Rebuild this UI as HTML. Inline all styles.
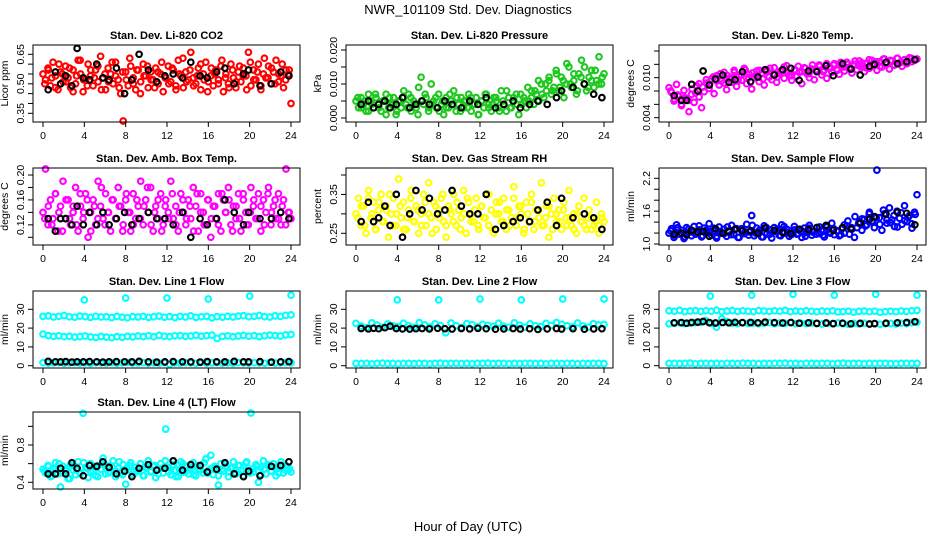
<!DOCTYPE html>
<html><head><meta charset="utf-8"><style>
body{margin:0;background:#fff}
svg{display:block;font-family:"Liberation Sans",Arial,sans-serif}
</style></head><body>
<svg id="chart" width="936" height="540" viewBox="0 0 936 540" xmlns="http://www.w3.org/2000/svg">
<text x="468" y="14" text-anchor="middle" font-size="13">NWR_101109  Std. Dev. Diagnostics</text>
<text x="468" y="531" text-anchor="middle" font-size="13">Hour of Day (UTC)</text>
</svg>
<script>
const xTicks=[0,4,8,12,16,20,24];
const blackHours=[0.5,1.2,1.7,2.2,2.8,3.3,3.9,4.5,5.2,5.8,6.4,7.1,7.9,8.6,9.3,10.2,11.0,11.8,12.6,13.5,14.3,15.2,15.9,16.8,17.6,18.5,19.4,19.9,21.0,22.1,23.0,23.8];
const outlierHours=[4,8,12,16,20,24];
const co2=[0.55,0.52,0.58,0.49,0.61,0.54,0.47,0.56,0.51,0.59,0.53,0.48,0.57,0.50,0.62,0.55,0.46,0.52,0.60,0.54,0.49,0.57,0.51,0.64,0.53,0.47,0.58,0.55,0.50,0.61,0.52,0.45,0.31,0.56,0.49,0.59,0.53,0.47,0.57,0.51,0.60,0.54,0.48,0.56,0.52,0.58,0.50,0.55,0.46,0.53,0.59,0.51,0.57,0.49,0.62,0.54,0.48,0.56,0.52,0.66,0.53,0.50,0.58,0.47,0.55,0.61,0.51,0.54,0.49,0.57,0.52,0.59,0.46,0.55,0.50,0.60,0.53,0.48,0.56,0.51,0.58,0.54,0.66,0.49,0.57,0.52,0.60,0.47,0.55,0.53,0.59,0.50,0.56,0.62,0.51,0.54,0.48,0.57,0.55,0.40];
const co2B=[0.50,0.57,0.53,0.48,0.60,0.55,0.51,0.58,0.46,0.54,0.62,0.52,0.49,0.57,0.53,0.59,0.47,0.55,0.51,0.61,0.54,0.48,0.56,0.52,0.63,0.50,0.57,0.45,0.54,0.59,0.52,0.48,0.56,0.61,0.53,0.50,0.58,0.47,0.55,0.63,0.51,0.57,0.49,0.54,0.60,0.52,0.46,0.58,0.55,0.50,0.62,0.53,0.48,0.57,0.51,0.59,0.54,0.47,0.61,0.52,0.56,0.49,0.63,0.53,0.58,0.50,0.55,0.60,0.52,0.57];
const co2Black=[0.47,0.56,0.50,0.54,0.49,0.68,0.53,0.52,0.60,0.53,0.52,0.58,0.45,0.52,0.65,0.57,0.51,0.54,0.55,0.53,0.61,0.54,0.53,0.56,0.58,0.50,0.55,0.57,0.49,0.50,0.56,0.54];
const press=[0.005,0.003,0.006,0.004,0.002,0.007,0.005,0.003,0.006,0.004,0.002,0.005,0.007,0.003,0.004,0.006,0.001,0.005,0.003,0.006,0.004,0.007,0.002,0.005,0.003,0.009,0.012,0.004,0.006,0.002,0.010,0.005,0.003,0.007,0.004,0.001,0.006,0.003,0.005,0.008,0.002,0.004,0.006,0.003,0.005,0.007,0.002,0.004,0.006,0.001,0.005,0.003,0.007,0.004,0.002,0.006,0.005,0.003,0.008,0.004,0.002,0.006,0.003,0.005,0.007,0.001,0.004,0.006,0.003,0.005,0.008,0.004,0.007,0.005,0.010,0.006,0.008,0.011,0.007,0.009,0.013,0.008,0.012,0.006,0.010,0.015,0.009,0.011,0.007,0.013,0.017,0.010,0.008,0.012,0.014,0.009,0.011,0.018,0.010,0.013];
const pressB=[0.006,0.003,0.005,0.002,0.004,0.007,0.003,0.005,0.001,0.006,0.004,0.002,0.005,0.008,0.003,0.006,0.004,0.001,0.005,0.007,0.003,0.004,0.006,0.002,0.005,0.003,0.007,0.004,0.006,0.002,0.005,0.003,0.006,0.004,0.001,0.005,0.007,0.003,0.004,0.006,0.002,0.005,0.008,0.003,0.006,0.004,0.007,0.005,0.009,0.006,0.008,0.011,0.007,0.010,0.012,0.008,0.014,0.009,0.011,0.016,0.010,0.013,0.008,0.012,0.015,0.009,0.011,0.014,0.010,0.012];
const pressBlack=[0.004,0.005,0.003,0.004,0.005,0.003,0.004,0.006,0.003,0.004,0.005,0.004,0.003,0.005,0.004,0.003,0.005,0.004,0.006,0.003,0.004,0.005,0.003,0.004,0.005,0.004,0.006,0.008,0.009,0.010,0.007,0.006];
const temp=[0.0085,0.0078,0.0065,0.0090,0.0072,0.0058,0.0081,0.0069,0.0049,0.0075,0.0063,0.0088,0.0071,0.0055,0.0079,0.0092,0.0084,0.0098,0.0076,0.0103,0.0089,0.0095,0.0108,0.0082,0.0099,0.0093,0.0111,0.0087,0.0102,0.0096,0.0114,0.0091,0.0105,0.0083,0.0100,0.0110,0.0094,0.0107,0.0089,0.0112,0.0101,0.0097,0.0115,0.0093,0.0106,0.0110,0.0099,0.0118,0.0104,0.0096,0.0112,0.0102,0.0108,0.0091,0.0115,0.0106,0.0100,0.0113,0.0097,0.0110,0.0119,0.0104,0.0111,0.0099,0.0116,0.0108,0.0121,0.0113,0.0105,0.0118,0.0110,0.0123,0.0115,0.0107,0.0120,0.0112,0.0125,0.0117,0.0109,0.0122,0.0114,0.0126,0.0118,0.0111,0.0124,0.0116,0.0128,0.0120,0.0113,0.0125,0.0119,0.0129,0.0122,0.0117,0.0127,0.0121,0.0130,0.0124,0.0126,0.0128];
const tempB=[0.0080,0.0068,0.0074,0.0060,0.0070,0.0066,0.0083,0.0077,0.0091,0.0086,0.0097,0.0090,0.0101,0.0095,0.0106,0.0092,0.0103,0.0099,0.0108,0.0096,0.0104,0.0112,0.0100,0.0107,0.0103,0.0111,0.0098,0.0109,0.0114,0.0105,0.0101,0.0110,0.0116,0.0107,0.0103,0.0112,0.0117,0.0109,0.0114,0.0106,0.0119,0.0112,0.0117,0.0109,0.0121,0.0114,0.0119,0.0111,0.0123,0.0116,0.0120,0.0113,0.0125,0.0118,0.0122,0.0115,0.0127,0.0120,0.0124,0.0117,0.0128,0.0122,0.0126,0.0119,0.0129,0.0123,0.0127,0.0125,0.0129,0.0127];
const tempBlack=[0.0073,0.0066,0.0066,0.0090,0.0080,0.0110,0.0089,0.0098,0.0104,0.0093,0.0097,0.0109,0.0094,0.0101,0.0112,0.0104,0.0112,0.0114,0.0096,0.0110,0.0109,0.0118,0.0103,0.0121,0.0113,0.0104,0.0117,0.0120,0.0123,0.0121,0.0124,0.0127];
const amb=[0.14,0.21,0.12,0.16,0.13,0.17,0.11,0.15,0.19,0.13,0.16,0.12,0.14,0.18,0.11,0.15,0.13,0.17,0.10,0.14,0.16,0.12,0.19,0.15,0.13,0.17,0.14,0.11,0.16,0.13,0.18,0.15,0.12,0.16,0.14,0.11,0.17,0.13,0.15,0.19,0.12,0.16,0.14,0.18,0.11,0.15,0.13,0.17,0.12,0.16,0.14,0.19,0.13,0.15,0.11,0.17,0.14,0.12,0.16,0.13,0.18,0.15,0.11,0.17,0.14,0.12,0.16,0.10,0.15,0.13,0.17,0.11,0.16,0.14,0.18,0.12,0.15,0.13,0.17,0.11,0.16,0.14,0.12,0.18,0.15,0.13,0.17,0.11,0.16,0.14,0.18,0.12,0.15,0.13,0.17,0.12,0.16,0.21,0.14,0.13];
const ambB=[0.13,0.15,0.12,0.17,0.14,0.11,0.16,0.13,0.15,0.12,0.17,0.14,0.16,0.11,0.15,0.13,0.18,0.12,0.14,0.16,0.13,0.15,0.11,0.17,0.14,0.12,0.16,0.13,0.15,0.18,0.12,0.14,0.16,0.11,0.15,0.13,0.17,0.12,0.14,0.16,0.13,0.15,0.11,0.17,0.14,0.12,0.16,0.13,0.15,0.12,0.17,0.14,0.16,0.11,0.15,0.13,0.17,0.12,0.14,0.16,0.13,0.15,0.12,0.17,0.14,0.16,0.13,0.15,0.12,0.14];
const ambBlack=[0.13,0.11,0.13,0.13,0.12,0.15,0.12,0.14,0.12,0.14,0.12,0.13,0.14,0.12,0.13,0.14,0.13,0.13,0.12,0.14,0.10,0.13,0.12,0.13,0.16,0.14,0.12,0.14,0.13,0.13,0.14,0.13];
const rh=[0.30,0.34,0.27,0.32,0.25,0.36,0.29,0.33,0.26,0.31,0.35,0.28,0.32,0.24,0.30,0.34,0.27,0.39,0.29,0.33,0.26,0.31,0.36,0.28,0.32,0.25,0.30,0.35,0.27,0.38,0.29,0.33,0.26,0.31,0.34,0.28,0.24,0.32,0.30,0.35,0.27,0.31,0.29,0.36,0.25,0.33,0.30,0.28,0.34,0.26,0.32,0.29,0.35,0.27,0.31,0.25,0.33,0.30,0.28,0.34,0.26,0.31,0.29,0.37,0.27,0.32,0.30,0.25,0.33,0.28,0.35,0.26,0.31,0.29,0.38,0.27,0.32,0.24,0.30,0.34,0.28,0.31,0.26,0.33,0.29,0.36,0.27,0.30,0.25,0.32,0.28,0.34,0.26,0.31,0.29,0.27,0.33,0.25,0.30,0.28];
const rhB=[0.29,0.32,0.27,0.34,0.30,0.26,0.33,0.28,0.31,0.35,0.27,0.30,0.32,0.26,0.29,0.34,0.28,0.31,0.27,0.33,0.30,0.25,0.32,0.29,0.35,0.27,0.31,0.28,0.33,0.26,0.30,0.34,0.28,0.31,0.27,0.32,0.29,0.35,0.26,0.30,0.33,0.28,0.31,0.27,0.34,0.29,0.32,0.26,0.30,0.33,0.28,0.31,0.27,0.29,0.32,0.26,0.30,0.28,0.31,0.27,0.29,0.26,0.30,0.28,0.27,0.29,0.26,0.28,0.27,0.29];
const rhBlack=[0.28,0.33,0.28,0.29,0.32,0.27,0.35,0.24,0.30,0.36,0.31,0.34,0.30,0.31,0.36,0.32,0.30,0.30,0.35,0.26,0.27,0.28,0.29,0.28,0.31,0.33,0.27,0.34,0.29,0.30,0.29,0.26];
const flow=[1.20,1.28,1.12,1.35,1.18,1.25,1.10,1.30,1.22,1.15,1.32,1.19,1.26,1.13,1.29,1.21,1.37,1.16,1.24,1.11,1.31,1.20,1.27,1.14,1.23,1.34,1.17,1.28,1.12,1.25,1.19,1.36,1.22,1.52,1.15,1.29,1.21,1.13,1.33,1.18,1.26,1.11,1.30,1.23,1.16,1.35,1.20,1.27,1.14,1.24,1.32,1.18,1.25,1.12,1.29,1.21,1.34,1.16,1.23,1.30,1.19,1.26,1.13,1.31,1.22,1.38,1.17,1.24,1.15,1.28,1.20,1.33,1.18,1.27,1.12,1.30,1.40,1.25,1.45,1.35,1.58,1.42,1.30,2.35,1.48,1.25,1.55,1.38,1.66,1.44,1.32,1.60,1.47,1.36,1.70,1.41,1.52,1.29,1.58,1.90];
const flowB=[1.24,1.16,1.30,1.20,1.13,1.27,1.22,1.18,1.33,1.15,1.25,1.21,1.29,1.14,1.23,1.19,1.31,1.17,1.26,1.12,1.28,1.22,1.16,1.34,1.20,1.25,1.13,1.30,1.18,1.23,1.27,1.15,1.32,1.21,1.17,1.26,1.19,1.24,1.14,1.29,1.22,1.18,1.31,1.16,1.25,1.20,1.28,1.23,1.17,1.35,1.42,1.30,1.50,1.38,1.46,1.33,1.55,1.40,1.48,1.36,1.62,1.44,1.39,1.52,1.31,1.57,1.43,1.49,1.37,1.54];
const flowBlack=[1.18,1.20,1.17,1.25,1.22,1.23,1.14,1.28,1.20,1.23,1.27,1.24,1.24,1.20,1.29,1.25,1.21,1.19,1.27,1.26,1.30,1.34,1.25,1.30,1.28,1.38,1.45,1.50,1.55,1.58,1.56,1.35];
const l1a=[26.2,26.5,25.9,26.3,26.7,26.0,25.8,26.4,26.1,25.7,26.3,25.9,26.0,25.6,26.2,25.8,25.5,26.1,25.9,26.3,25.7,26.0,26.4,25.8,26.1,25.6,26.2,25.9,26.5,25.7,26.0,26.3,25.4,26.1,25.8,26.2,25.9,26.4,26.6,26.0,26.3,26.7,26.1,25.9,26.5,26.2,26.8,27.0];
const l1b=[16.8,16.0,15.6,15.9,15.4,15.7,15.2,15.5,15.8,15.3,15.0,15.6,15.2,14.9,15.4,15.1,15.6,15.3,15.8,15.5,15.9,15.4,16.1,15.7,15.5,15.9,16.0,15.6,15.8,16.2,15.7,16.0,16.3,14.5,15.6,15.9,15.4,15.8,16.1,15.7,16.0,15.5,15.9,16.3,16.0,15.8,16.4,16.6];
const l1c=[1.6,1.4,1.5,1.7,1.3,1.5,1.6,1.4,1.5,1.2,1.6,1.5,1.4,1.6,1.3,1.5,1.7,1.4,1.5,1.6,1.3,1.5,1.4,1.6,0.8,1.5,1.4,1.6,1.5,1.3,1.7,1.4,1.5,1.6,1.4,1.5,1.3,1.6,1.5,1.4,1.6,1.5,1.3,1.7,1.4,1.5,1.6,1.5];
const l1Black=[2.3,2.1,2.0,2.2,1.9,2.1,2.0,2.2,2.1,1.9,2.0,2.2,2.1,2.0,2.3,2.1,1.9,2.0,2.2,2.1,2.0,1.9,2.2,2.1,2.0,2.3,2.1,2.0,2.2,1.9,2.1,2.2];
const l1Out=[35,36,36,35.5,37,37.5];
const l2a=[22.5,21.0,20.2,22.8,21.6,20.5,22.2,21.3,20.8,22.6,21.1,20.4,22.9,21.7,20.6,22.3,21.4,17.5,22.7,21.2,20.3,22.4,21.8,20.7,22.1,21.5,20.9,22.6,21.0,20.4,22.8,21.6,20.5,22.3,21.2,20.8,22.5,21.4,23.0,22.0,21.3,20.6,22.7,21.1,20.5,22.4,21.7,21.9];
const l2b=[1.2,1.1,1.3,1.0,1.2,1.4,1.1,1.2,1.0,1.3,1.2,1.1,1.3,1.2,1.0,1.2,1.4,1.1,1.2,1.3,1.1,1.2,1.0,1.3,1.2,1.4,1.1,1.2,1.3,1.0,1.2,1.1,1.3,1.2,1.1,1.2,1.0,1.3,1.2,1.1,1.3,1.2,1.0,1.2,1.1,1.3,1.2,1.1];
const l2Black=[19.8,19.6,19.9,19.7,20.2,21.0,19.8,19.6,19.5,19.7,19.8,19.6,19.9,19.7,19.5,19.8,19.6,19.9,19.7,19.4,19.6,19.8,19.5,19.7,19.3,19.6,19.8,19.5,19.7,19.4,19.6,19.7];
const l2Out=[35,35,35.5,35,35.5,35.5];
const l3a=[29.2,29.0,29.4,28.8,29.1,29.3,28.9,29.2,29.0,29.5,28.7,29.1,29.3,28.9,29.2,29.0,28.8,29.3,29.1,28.9,29.2,29.0,29.4,28.8,29.1,28.9,29.2,29.0,28.7,29.1,28.9,29.2,28.6,28.8,29.0,28.5,28.9,29.1,28.7,29.0,28.4,28.8,29.0,28.7,29.1,28.9,29.2,29.4];
const l3b=[22.3,22.5,22.8,22.4,22.6,22.9,23.1,24.0,22.5,20.5,25.0,23.5,22.6,22.4,22.8,22.5,22.7,22.3,22.6,22.9,22.4,22.7,22.5,22.8,22.3,22.6,22.4,22.7,22.5,22.2,22.6,22.4,22.7,22.3,22.0,22.5,22.2,22.6,22.1,22.4,22.0,22.3,22.5,22.2,22.6,22.4,22.8,23.1];
const l3c=[1.2,1.3,1.1,1.2,1.4,1.0,1.2,1.3,1.1,1.2,1.0,1.3,1.2,1.1,1.4,1.2,1.3,1.0,1.2,1.1,1.3,1.2,1.4,1.1,1.2,1.0,1.3,1.2,1.1,1.2,1.3,1.0,1.2,1.4,1.1,1.2,1.3,1.0,1.2,1.1,1.3,1.2,1.1,1.0,1.2,1.3,1.1,1.2];
const l3Black=[22.8,22.9,22.6,23.0,23.2,23.5,22.9,22.7,23.0,22.8,23.1,22.9,23.0,22.8,23.2,22.9,22.7,23.0,22.6,22.8,22.5,22.7,22.4,22.6,22.3,22.5,22.2,22.4,22.6,22.8,23.0,23.4];
const l3Out=[37,37.5,38,37.5,38,37.5];
const l4=[0.54,0.50,0.58,0.46,0.55,0.61,0.49,0.35,0.57,0.52,0.44,0.59,0.53,0.48,0.62,0.50,1.14,0.56,0.45,0.60,0.52,0.47,0.58,0.54,0.66,0.49,0.57,0.51,0.63,0.46,0.55,0.50,0.59,0.38,0.53,0.61,0.48,0.56,0.52,0.60,0.47,0.55,0.63,0.51,0.57,0.45,0.54,0.60,0.50,0.97,0.56,0.48,0.59,0.53,0.46,0.62,0.51,0.57,0.49,0.55,0.61,0.47,0.54,0.58,0.50,0.65,0.53,0.69,0.48,0.56,0.37,0.60,0.52,0.57,0.46,0.55,0.62,0.50,0.58,0.53,0.47,0.61,0.55,1.16,0.51,0.59,0.40,0.56,0.63,0.49,0.57,0.52,0.60,0.47,0.55,0.62,0.50,0.58,0.53,0.51];
const l4B=[0.52,0.57,0.47,0.55,0.60,0.50,0.54,0.44,0.58,0.53,0.49,0.61,0.55,0.51,0.57,0.46,0.54,0.59,0.50,0.56,0.52,0.62,0.48,0.55,0.58,0.51,0.53,0.60,0.47,0.56,0.52,0.58,0.49,0.55,0.63,0.51,0.57,0.46,0.54,0.60,0.52,0.56,0.48,0.58,0.53,0.61,0.50,0.55,0.57,0.47,0.54,0.60,0.51,0.56,0.49,0.58,0.53,0.62,0.50,0.55,0.57,0.48,0.54,0.59,0.52,0.56,0.50,0.58,0.53,0.55];
const l4Black=[0.49,0.49,0.55,0.49,0.61,0.55,0.47,0.58,0.57,0.62,0.56,0.49,0.52,0.46,0.55,0.59,0.53,0.55,0.63,0.53,0.59,0.58,0.51,0.54,0.61,0.49,0.46,0.52,0.47,0.57,0.58,0.62];

const NS="http://www.w3.org/2000/svg";
const svg=document.getElementById('chart');
function mk(tag,attrs,parent){const e=document.createElementNS(NS,tag);for(const k in attrs)e.setAttribute(k,attrs[k]);(parent||svg).appendChild(e);return e;}
const cols=[33,346,659], rows=[45,168,291,412], W=267, H=77;
const panels=[
 {id:'co2',c:0,r:0,title:'Stan. Dev. Li-820 CO2',yl:'Licor ppm',ref:[0.65,54.3,0.35,113.3],ticks:[0.35,0.40,0.45,0.50,0.55,0.60,0.65],labels:[0.35,0.50,0.65],dec:2,series:[[co2,null,'#ff0000'],[co2B,null,'#ff0000'],[co2Black,blackHours,'#000']]},
 {id:'pressure',c:1,r:0,title:'Stan. Dev. Li-820 Pressure',yl:'kPa',ref:[0.020,50,0,118],ticks:[0,0.005,0.010,0.015,0.020],labels:[0,0.010,0.020],dec:3,series:[[press,null,'#1ec81e'],[pressB,null,'#1ec81e'],[pressBlack,blackHours,'#000']]},
 {id:'temp',c:2,r:0,title:'Stan. Dev. Li-820 Temp.',yl:'degrees C',ref:[0.014,51,0.004,117.7],ticks:[0.004,0.006,0.008,0.010,0.012,0.014],labels:[0.004,0.010],dec:3,series:[[temp,null,'#ff00ff'],[tempB,null,'#ff00ff'],[tempBlack,blackHours,'#000']]},
 {id:'amb-box-temp',c:0,r:1,title:'Stan. Dev. Amb. Box Temp.',yl:'degrees C',ref:[0.20,175,0.10,237.3],ticks:[0.10,0.12,0.14,0.16,0.18,0.20],labels:[0.12,0.16,0.20],dec:2,series:[[amb,null,'#ff00ff'],[ambB,null,'#ff00ff'],[ambBlack,blackHours,'#000']]},
 {id:'gas-rh',c:1,r:1,title:'Stan. Dev. Gas Stream RH',yl:'percent',ref:[0.40,175,0.25,233.3],ticks:[0.25,0.30,0.35,0.40],labels:[0.25,0.35],dec:2,series:[[rh,null,'#ffff00'],[rhB,null,'#ffff00'],[rhBlack,blackHours,'#000']]},
 {id:'sample-flow',c:2,r:1,title:'Stan. Dev. Sample Flow',yl:'ml/min',ref:[2.2,178.3,1.0,244],ticks:[1.0,1.2,1.4,1.6,1.8,2.0,2.2],labels:[1.0,1.6,2.2],dec:1,series:[[flow,null,'#0000ff'],[flowB,null,'#0000ff'],[flowBlack,blackHours,'#000']]},
 {id:'line1-flow',c:0,r:2,title:'Stan. Dev. Line 1 Flow',yl:'ml/min',ref:[30,309.3,0,365.7],ticks:[0,10,20,30],labels:[0,10,20,30],dec:0,series:[[l1a,null,'#00ffff'],[l1b,null,'#00ffff'],[l1c,null,'#00ffff'],[l1Out,outlierHours,'#00ffff'],[l1Black,blackHours,'#000']]},
 {id:'line2-flow',c:1,r:2,title:'Stan. Dev. Line 2 Flow',yl:'ml/min',ref:[30,309.3,0,365.7],ticks:[0,10,20,30],labels:[0,10,20,30],dec:0,series:[[l2a,null,'#00ffff'],[l2b,null,'#00ffff'],[l2Out,outlierHours,'#00ffff'],[l2Black,blackHours,'#000']]},
 {id:'line3-flow',c:2,r:2,title:'Stan. Dev. Line 3 Flow',yl:'ml/min',ref:[30,309.3,0,365.7],ticks:[0,10,20,30],labels:[0,10,20,30],dec:0,series:[[l3a,null,'#00ffff'],[l3b,null,'#00ffff'],[l3c,null,'#00ffff'],[l3Out,outlierHours,'#00ffff'],[l3Black,blackHours,'#000']]},
 {id:'line4-flow',c:0,r:3,title:'Stan. Dev. Line 4 (LT) Flow',yl:'ml/min',ref:[0.8,445,0.4,482.3],ticks:[0.4,0.6,0.8,1.0],labels:[0.4,0.8],dec:1,series:[[l4,null,'#00ffff'],[l4B,null,'#00ffff'],[l4Black,blackHours,'#000']]}
];
panels.forEach(p=>{
  const L=cols[p.c], T=rows[p.r];
  const g=mk('g',{});
  
  
  const xS=v=>L+10+v*(248/24);
  const [v1,p1,v2,p2]=p.ref;
  const yS=v=>p1+(v-v1)*(p2-p1)/(v2-v1);
  const t=mk('text',{x:L+W/2,y:T-6,'text-anchor':'middle','font-size':'11','font-weight':'bold'},g);
  t.textContent=p.title;
  
  
  const pts=mk('g',{fill:'none','stroke-width':'2.1'},g);
  
  
  p.series.forEach(s=>{
    const [vals,hrs,col]=s;
    const off=(vals.length===70)?0.17:0;
    vals.forEach((v,i)=>{
      const h=hrs?hrs[i]:off+i*(24-2*off)/(vals.length-1);
      const cy=Math.max(T+1,Math.min(T+H-1,yS(v)));
      const c=mk('circle',{cx:xS(h).toFixed(1),cy:cy.toFixed(1),r:'2.8',stroke:col},pts);
      
      
    });
  });
  const box=mk('rect',{x:L,y:T,width:W,height:H,fill:'none',stroke:'#000','stroke-width':'1'},g);
  
  
  const xa=mk('g',{},g);
  
  
  mk('line',{x1:xS(0),x2:xS(24),y1:T+H,y2:T+H,stroke:'#000'},xa);
  xTicks.forEach(v=>{
    mk('line',{x1:xS(v),x2:xS(v),y1:T+H,y2:T+H+5,stroke:'#000'},xa);
    const tl=mk('text',{x:xS(v),y:T+H+17,'text-anchor':'middle','font-size':'10.5'},xa);
    tl.textContent=v;
  });
  const ya=mk('g',{},g);
  
  
  p.ticks.forEach(v=>{
    mk('line',{x1:L-5,x2:L,y1:yS(v),y2:yS(v),stroke:'#000'},ya);
  });
  p.labels.forEach(v=>{
    const y=yS(v), x=L-9;
    const tl=mk('text',{x:x,y:y,'text-anchor':'middle','font-size':'10.5',transform:`rotate(-90 ${x} ${y})`},ya);
    tl.textContent=v.toFixed(p.dec);
  });
  const yx=L-25, yy=T+H/2;
  const yt=mk('text',{x:yx,y:yy,'text-anchor':'middle','font-size':'10.5',transform:`rotate(-90 ${yx} ${yy})`},g);
  yt.textContent=p.yl;
  
  
});
</script>
</body></html>
